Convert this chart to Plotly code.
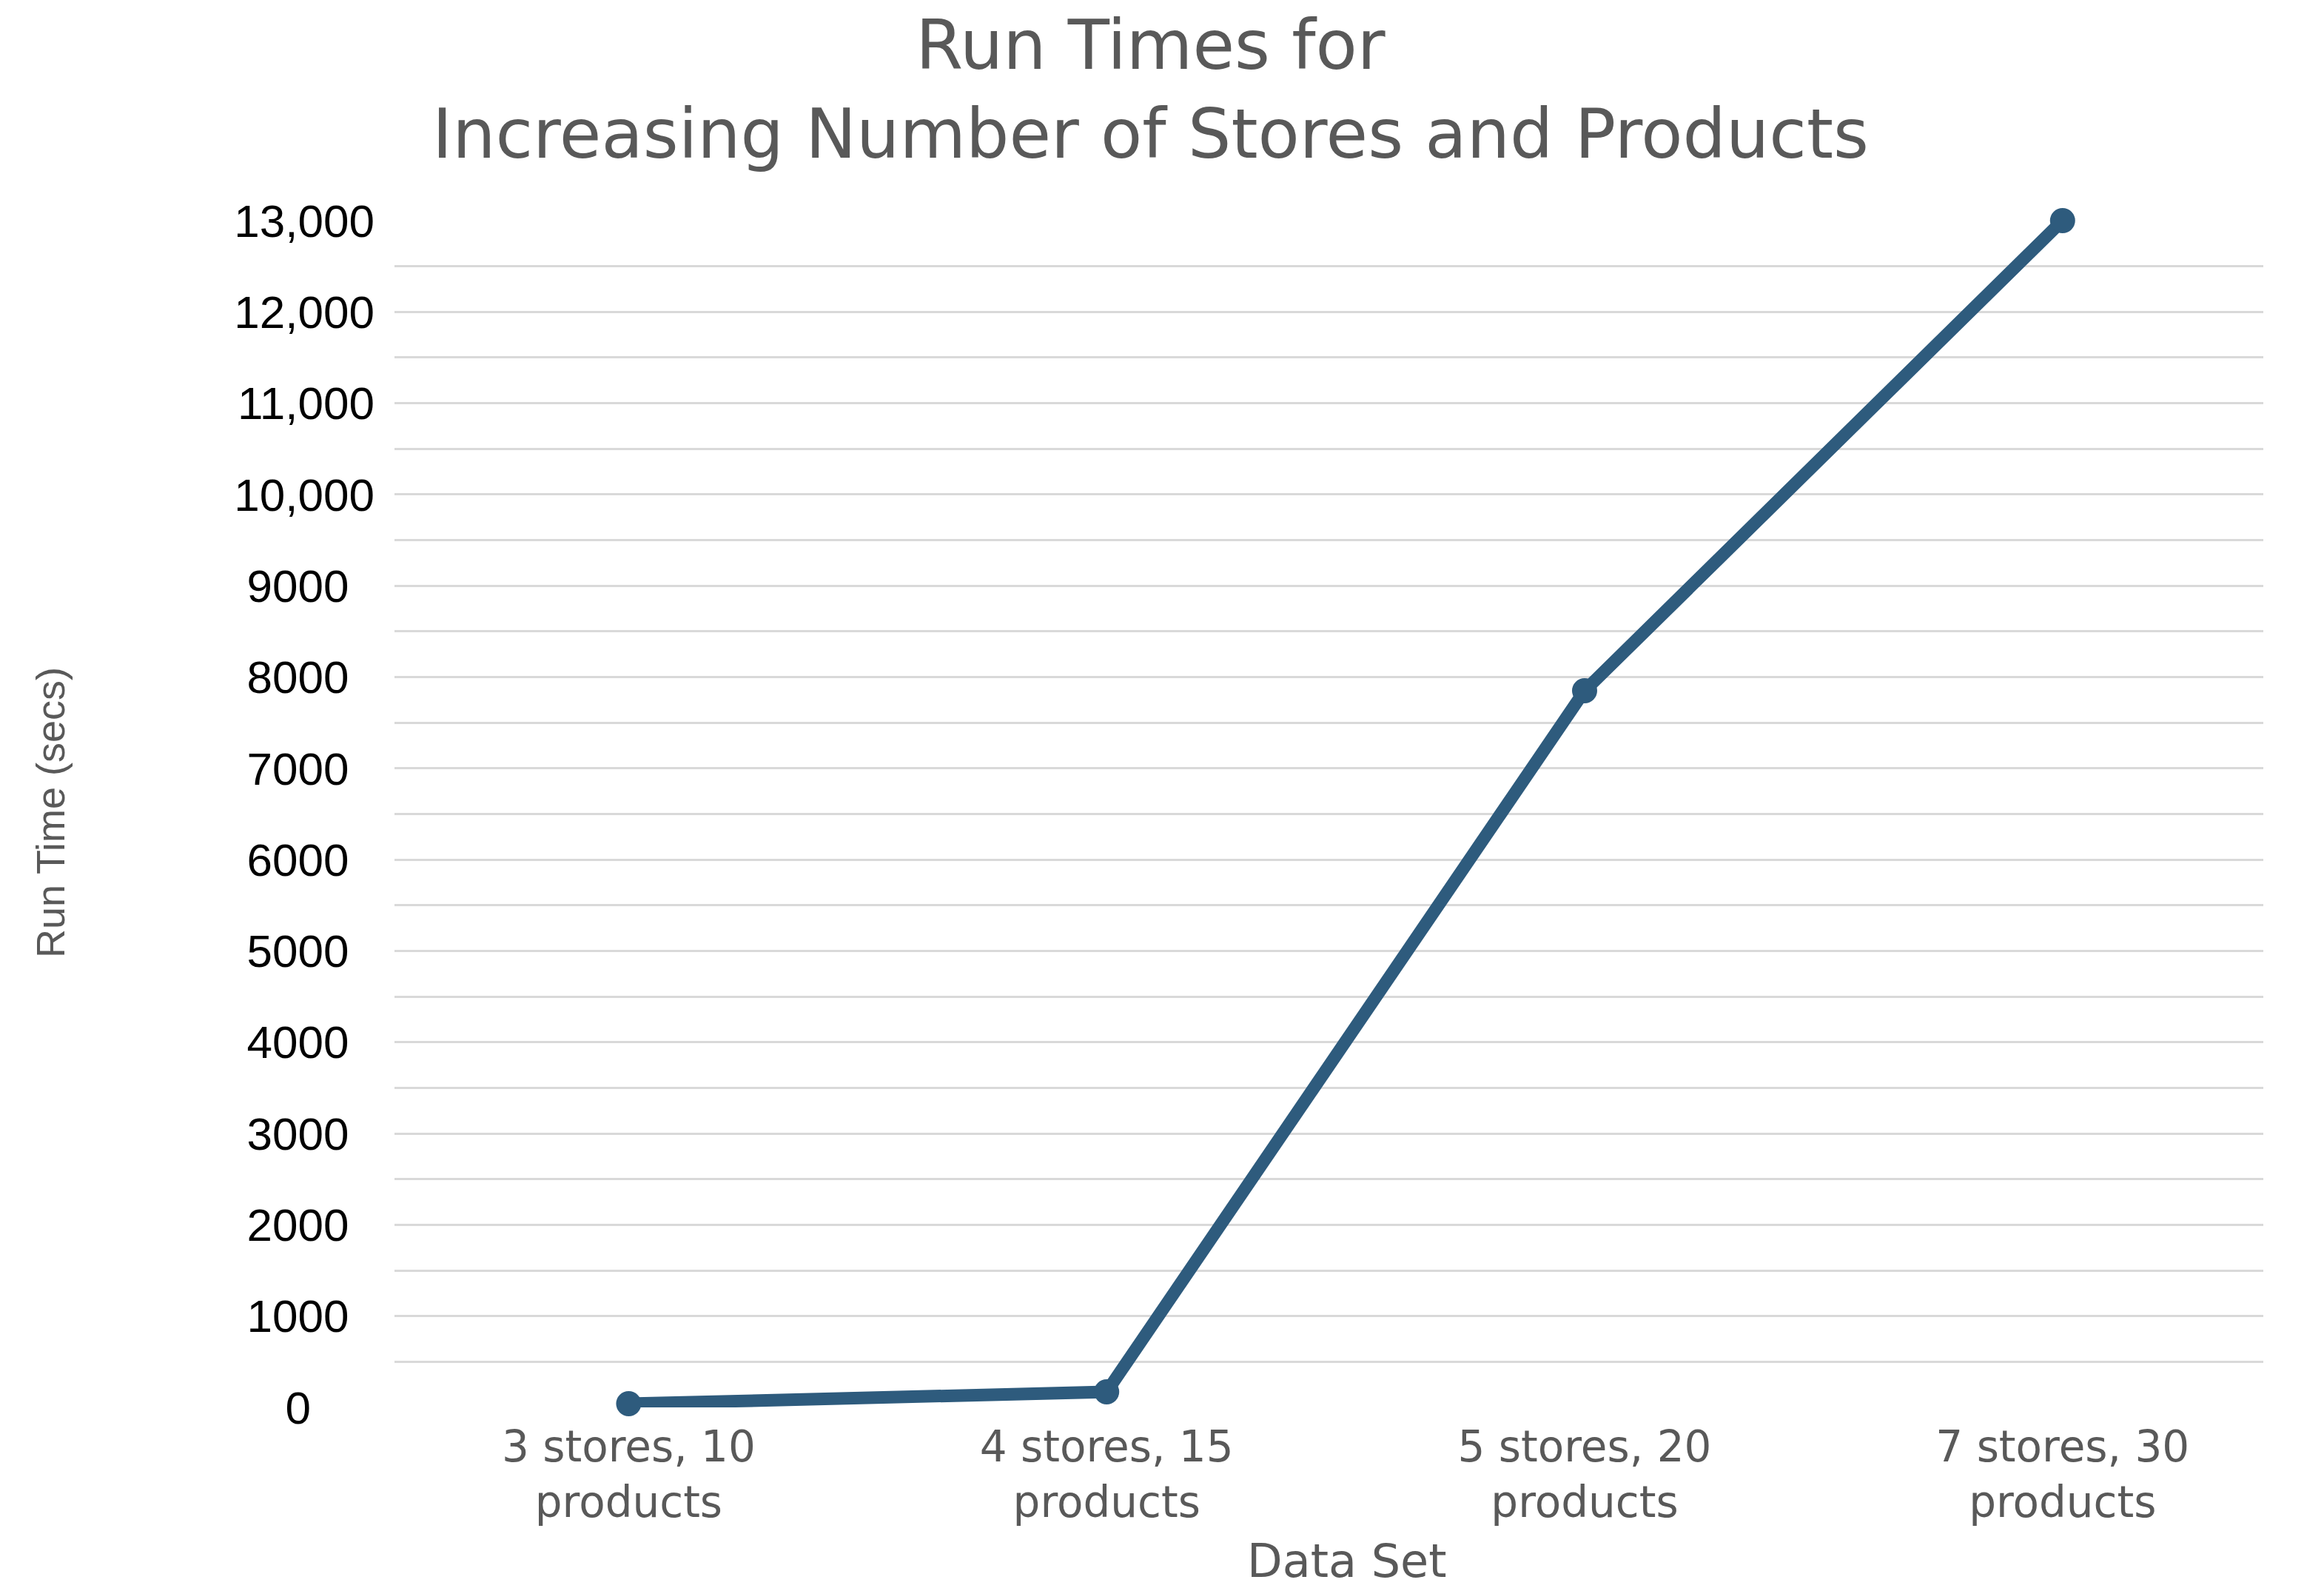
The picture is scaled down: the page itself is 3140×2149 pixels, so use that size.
import plotly.graph_objects as go

# ---- data ----
categories = ["3 stores, 10<br>products", "4 stores, 15<br>products",
              "5 stores, 20<br>products", "7 stores, 30<br>products"]
run_times = [40, 170, 7850, 13000]

y_tick_values = [0, 1000, 2000, 3000, 4000, 5000, 6000, 7000, 8000, 9000,
                 10000, 11000, 12000, 13000]
y_tick_labels = ["0", "1000", "2000", "3000", "4000", "5000", "6000", "7000",
                 "8000", "9000", "10,000", "11,000", "12,000", "13,000"]

title_lines = ["Run Times for", "Increasing Number of Stores and Products"]
x_title = "Data Set"
y_title = "Run Time (secs)"

W, H = 3140, 2149
L, R, T, B = 525, 90, 290, 256
plot_w = W - L - R
plot_h = H - T - B

LINE_COLOR = "#2E5B7D"
GREY = "#595959"
GRID = "#D9D9D9"
NBSP = "\u00a0"


def px_x(x):
    return (x - L) / plot_w


def px_y(y):
    return ((H - B) - y) / plot_h


# labels in the reference are centred in their column; pad shorter ones
longest = max(len(t) for t in y_tick_labels)
tick_text = []
for t in y_tick_labels:
    diff = longest - len(t)
    pad = 2 if diff == 2 else (5 if diff >= 5 else diff)
    tick_text.append(t + NBSP * pad)

fig = go.Figure()
fig.add_trace(go.Scatter(
    x=categories, y=run_times, mode="lines+markers",
    line=dict(color=LINE_COLOR, width=17),
    marker=dict(color=LINE_COLOR, size=34, symbol="circle"),
    cliponaxis=False, showlegend=False,
))

annotations = [
    dict(text="<br>".join(title_lines), xref="paper", yref="paper",
         x=px_x(1546), y=px_y(114), xanchor="center", yanchor="middle",
         showarrow=False, font=dict(family="DejaVu Sans", size=92, color=GREY)),
    dict(text=x_title, xref="paper", yref="paper",
         x=px_x(1812), y=px_y(2100), xanchor="center", yanchor="middle",
         showarrow=False, font=dict(family="DejaVu Sans", size=62, color=GREY)),
    dict(text=y_title, xref="paper", yref="paper",
         x=px_x(60), y=px_y(1090), xanchor="center", yanchor="middle",
         textangle=-90, showarrow=False,
         font=dict(family="Liberation Sans Narrow, Arial Narrow, Liberation Sans",
                   size=54, color=GREY)),
]

fig.update_layout(
    width=W, height=H,
    margin=dict(l=L, r=R, t=T, b=B),
    paper_bgcolor="white", plot_bgcolor="white",
    xaxis=dict(type="category", range=[-0.49, 3.42], showgrid=False,
               showline=False, zeroline=False, ticks="",
               tickfont=dict(family="DejaVu Sans", size=58, color=GREY),
               ticklabelstandoff=14),
    yaxis=dict(range=[0, 13000], tickmode="array", tickvals=y_tick_values,
               ticktext=tick_text, showgrid=True, gridcolor=GRID, gridwidth=3,
               zeroline=False, showline=False, ticks="",
               tickfont=dict(family="Liberation Sans, Arial", size=62, color="black"),
               ticklabelstandoff=26,
               minor=dict(tickmode="linear", tick0=0, dtick=500, showgrid=True,
                          gridcolor=GRID, gridwidth=3)),
    annotations=annotations,
)

fig.write_html("out.html")
